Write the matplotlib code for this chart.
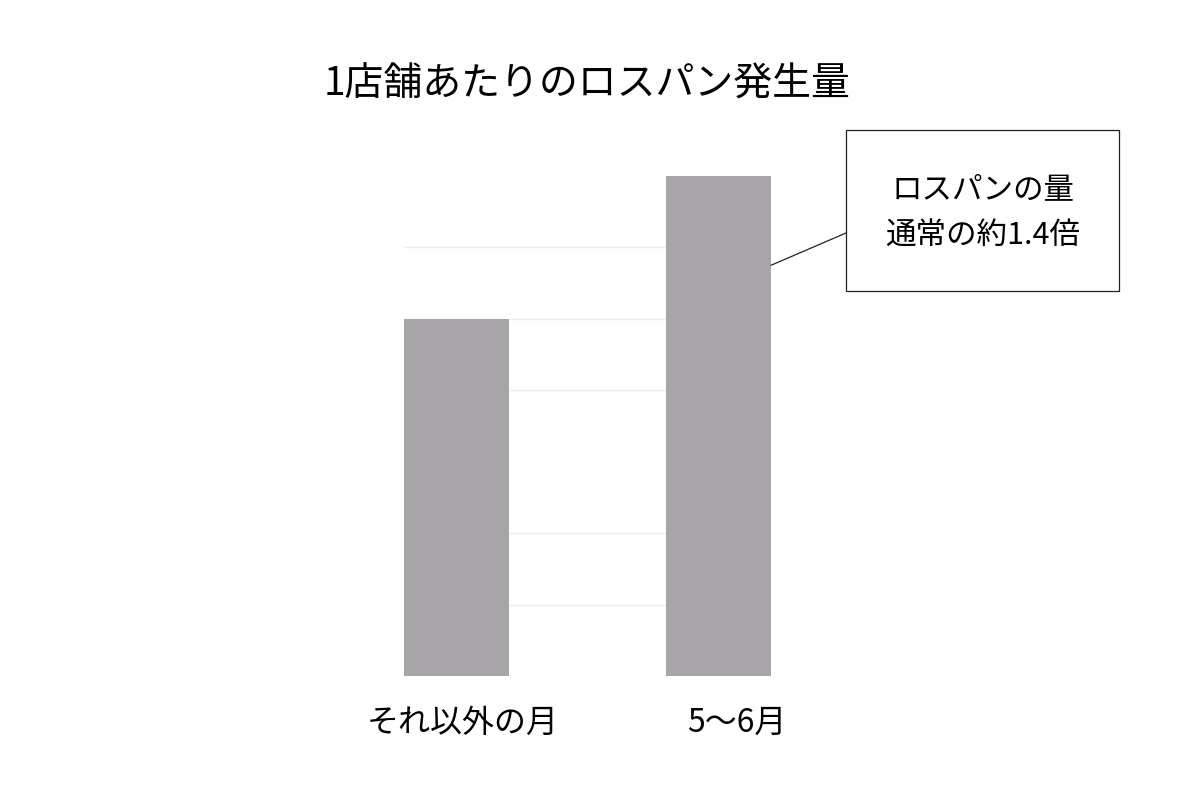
import matplotlib.pyplot as plt
from matplotlib.patches import Rectangle
from matplotlib.transforms import ScaledTranslation

plt.rcParams['font.family'] = ['Noto Sans CJK JP', 'DejaVu Sans']

# data
categories = ['それ以外の月', '5〜6月']
values = [5, 7]
title = '1店舗あたりのロスパン発生量'
note_lines = ['ロスパンの量', '通常の約1.4倍']
grid_levels = [0, 1, 2, 4, 5, 6]   # faint lines visible in the original

fig = plt.figure(figsize=(12, 8), dpi=100)
ax = fig.add_axes([0.3367, 0.155, 0.3058, 0.625])

x = list(range(len(categories)))
ax.bar(x, values, width=0.4, color='#a7a5a8', zorder=2)

ax.set_xlim(-0.2, 1.2)
ax.set_ylim(0, 7)
ax.set_yticks(grid_levels)
ax.yaxis.grid(True, color='#eeeeee', linewidth=1, zorder=0)
ax.set_axisbelow(True)
ax.tick_params(axis='y', left=False, labelleft=False)
ax.tick_params(axis='x', length=0, pad=22, labelsize=23)
for s in ax.spines.values():
    s.set_visible(False)

ax.set_xticks(x)
ax.set_xticklabels(categories)
# labels sit a little right of the bar centres in the original
for lbl, dx in zip(ax.get_xticklabels(), [6.5, 18]):
    lbl.set_transform(lbl.get_transform() + ScaledTranslation(dx / 100, 0, fig.dpi_scale_trans))

fig.text(0.489, 1 - 85 / 800, title, ha='center', va='center', fontsize=28)

# callout box
fig.add_artist(Rectangle((0.705, 1 - 291 / 800), 0.2275, 0.201,
                         transform=fig.transFigure, fill=False,
                         edgecolor='#222222', linewidth=0.9))
fig.text(0.819, 1 - 190 / 800, note_lines[0], ha='center', va='center', fontsize=22)
fig.text(0.819, 1 - 236 / 800, note_lines[1], ha='center', va='center', fontsize=22)
ax.annotate('', xy=(1.2, 5.75), xycoords='data',
            xytext=(0.705, 1 - 233 / 800), textcoords='figure fraction',
            arrowprops=dict(arrowstyle='-', lw=0.9, color='#222222',
                            shrinkA=0, shrinkB=0))

fig.savefig('out.png', dpi=100, facecolor='white')
